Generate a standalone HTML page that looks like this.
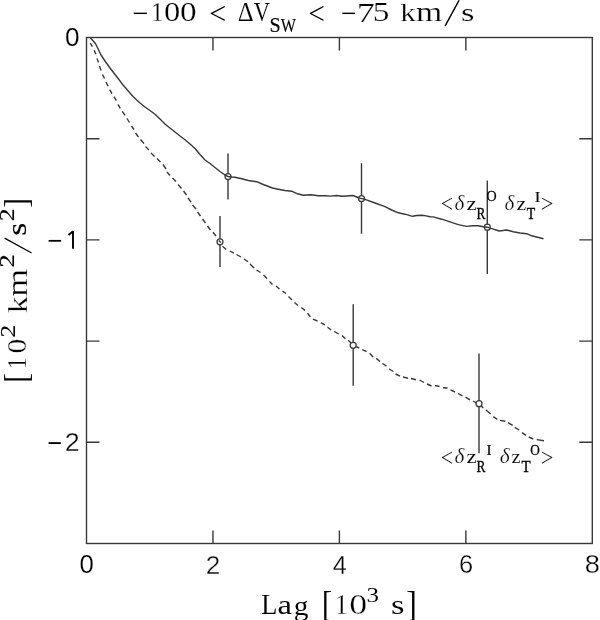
<!DOCTYPE html>
<html><head><meta charset="utf-8"><title>plot</title>
<style>html,body{margin:0;padding:0;background:#fff;}svg{display:block;}</style></head>
<body><svg width="600" height="620" viewBox="0 0 600 620">
<rect width="600" height="620" fill="#fff"/>
<g style="will-change:transform">
<rect x="86.5" y="37.5" width="505.79999999999995" height="506.0" fill="none" stroke="#383838" stroke-width="1.4"/>
<path d="M212.95 543.5V530.5M212.95 37.5V50.5M339.40 543.5V530.5M339.40 37.5V50.5M465.85 543.5V530.5M465.85 37.5V50.5M86.5 138.70H99.5M592.3 138.70H579.3M86.5 239.90H99.5M592.3 239.90H579.3M86.5 341.10H99.5M592.3 341.10H579.3M86.5 442.30H99.5M592.3 442.30H579.3" fill="none" stroke="#383838" stroke-width="1.4"/>
<path d="M90.3 37.7 L92.3 40 L94.3 42.3 L95.7 44 L97.3 47.3 L99 50.7 L101 55 L105 61 L110 68 L115 74.5 L119.3 80 L123.3 85.3 L128 90.7 L133.3 96.7 L136.7 100 L140 103 L145 107 L150 110.5 L155 114.2 L160 119 L165 124 L168 126.5 L175 132 L180 136 L185 139.7 L190 144 L195 148.5 L200 154.5 L205 160 L210 163.5 L215 167.5 L220 171.5 L225 175 L228 176.5 L232 177 L235 177.3 L241.7 178.7 L248.3 180.5 L256.7 181.7 L263.3 184.5 L272.5 188 L278.3 189.2 L285 190.5 L291.7 191.2 L297.5 193.8 L303.3 195.3 L310.8 194.7 L318.3 195.8 L325.8 195.7 L330 196.1 L336.7 195.5 L341.7 196.3 L346.7 196 L353 195.5 L358 197.5 L361.5 198.6 L365 199.3 L375 203 L385 206.7 L391.7 210 L398.3 212.8 L405 214.2 L412.5 216.3 L416.7 215.5 L421.7 215.3 L425 215.6 L430 216.7 L433.3 216.9 L441.7 219.2 L450 221.9 L458.3 224.6 L466.7 226.4 L472.5 225.8 L478.3 225.7 L483.3 226.8 L487.2 227.2 L492.5 228.8 L499.2 231 L506.7 230 L513.3 231.7 L520 233 L526.7 233.7 L531.7 235.8 L543.5 238.8" fill="none" stroke="#383838" stroke-width="1.4" stroke-linejoin="round"/>
<path d="M90.3 43.2L92.5 46.7M94.2 50.3L95.8 54.2M97 58.5L98.5 62.5M99.5 66L101 70.5M102.5 74.5L104.5 78.5M106 82L108 86.3M109.7 89.7L112 93.7M114 96.7L116.3 100.7M118 104.3L120.3 108.3M122.3 111.3L125 115.3M127 118.5L129.5 122.5M131.5 126L134 129.5M135.5 133L138.5 137M140.5 139.5L144 143.5M145.5 146.5L149 150M151 153L154.5 156.5M157 158.5L160.5 162M163 164.5L166 169M167 172L170 175.5M172.5 178L176 181.5M178 184.5L181.5 188.5M183.5 191L186.5 195M188 198L191 202M192.5 205L196 209M197.5 212L200.5 216M202.5 219L205.5 223M207.5 226L210.5 230M213 232.3L216 236M218.75 240.5L221 242.5M222.5 246.25L226.25 249.5M229.75 251L233.75 253.2M236.5 254.5L241 257M244 259L248 261.8M250 264L254 268M256.5 270L260.5 272.5M263.5 275L267 278.5M269.5 281.5L272.5 284.5M276 286L279.5 289M282.5 291.2L286 293.5M288.5 296.5L292 300M294.5 302.5L298 305.5M301.3 307.5L305 310.4M307.5 313.3L310.4 316.7M312.9 319.2L317.5 321M320.8 322.7L325 324.8M327.5 327.3L331.25 330M334.2 331.5L338.75 334M342 335.5L345.5 338.8M348.3 340.3L351 343M356 346.7L359.3 348M362.3 349.7L366.7 351.7M369.7 353.3L373 357M376.3 358.4L380 361.5M382.5 363.5L386.5 366.2M389 369L393.5 371.5M395.5 374L400 376.2M403 377L408 378.2M411 378.5L416 379.7M419.5 380L424 382.5M427 384L431.5 386M435 385.5L439.5 386.5M443 387.8L447.5 388M450.5 389.8L455 392M458 393.5L462.5 395.8M465.5 397.2L470 399.8M473 401L476.5 403M481.3 406L483.3 408M486 410L490.7 414M493.3 416.7L497.3 419.3M500 420.4L505.3 421.3M508 422.7L512.7 425.3M514.7 427.3L519.3 430M522 432.7L526 435.3M528.7 437L533.3 439M536.7 439.6L544 440.7" fill="none" stroke="#383838" stroke-width="1.4"/>
<path d="M228 153.4V173.5M228 179.5V199.5M361.5 163.3V195.6M361.5 201.6V233.8M487.3 180.5V224.2M487.3 230.2V274M220 216V238.8M220 244.8V267M353.2 304.2V342.3M353.2 348.3V385.8M479 353.6V400.7M479 406.7V453.3" fill="none" stroke="#383838" stroke-width="1.4"/>
<circle cx="228" cy="176.5" r="3.0" fill="none" stroke="#383838" stroke-width="1.25"/>
<circle cx="361.5" cy="198.6" r="3.0" fill="none" stroke="#383838" stroke-width="1.25"/>
<circle cx="487.3" cy="227.2" r="3.0" fill="none" stroke="#383838" stroke-width="1.25"/>
<circle cx="220" cy="241.8" r="3.0" fill="none" stroke="#383838" stroke-width="1.25"/>
<circle cx="353.2" cy="345.3" r="3.0" fill="none" stroke="#383838" stroke-width="1.25"/>
<circle cx="479" cy="403.7" r="3.0" fill="none" stroke="#383838" stroke-width="1.25"/>
<text transform="matrix(0.26149 0 0 0.25282 64.879 45.953)" font-family='"Liberation Sans", sans-serif' font-style="normal" font-size="100" fill="#000" stroke="#fff" stroke-width="0.15" vector-effect="non-scaling-stroke">0</text>
<text transform="matrix(0.25729 0 0 0.25249 47.531 249.096)" font-family='"Liberation Sans", sans-serif' font-style="normal" font-size="100" fill="#000">−</text>
<path d="M73 231V248.7M73 231.3L68.5 235" fill="none" stroke="#000" stroke-width="1.9"/>
<text transform="matrix(0.25111 0 0 0.26652 47.562 451.812)" font-family='"Liberation Sans", sans-serif' font-style="normal" font-size="100" fill="#000">−</text>
<text transform="matrix(0.26890 0 0 0.25493 64.648 451.000)" font-family='"Liberation Sans", sans-serif' font-style="normal" font-size="100" fill="#000" stroke="#fff" stroke-width="0.3" vector-effect="non-scaling-stroke">2</text>
<text transform="matrix(0.25731 0 0 0.25141 79.495 573.154)" font-family='"Liberation Sans", sans-serif' font-style="normal" font-size="100" fill="#000" stroke="#fff" stroke-width="0.15" vector-effect="non-scaling-stroke">0</text>
<text transform="matrix(0.26121 0 0 0.25636 205.686 573.500)" font-family='"Liberation Sans", sans-serif' font-style="normal" font-size="100" fill="#000" stroke="#fff" stroke-width="0.3" vector-effect="non-scaling-stroke">2</text>
<text transform="matrix(0.25302 0 0 0.25800 332.669 573.500)" font-family='"Liberation Sans", sans-serif' font-style="normal" font-size="100" fill="#000" stroke="#fff" stroke-width="0.3" vector-effect="non-scaling-stroke">4</text>
<text transform="matrix(0.25465 0 0 0.25423 458.957 573.252)" font-family='"Liberation Sans", sans-serif' font-style="normal" font-size="100" fill="#000" stroke="#fff" stroke-width="0.3" vector-effect="non-scaling-stroke">6</text>
<text transform="matrix(0.27278 0 0 0.25706 584.715 573.249)" font-family='"Liberation Sans", sans-serif' font-style="normal" font-size="100" fill="#000" stroke="#fff" stroke-width="0.3" vector-effect="non-scaling-stroke">8</text>
<text transform="matrix(0.28797 0 0 0.32125 132.066 23.767)" font-family='"Liberation Serif", serif' font-style="normal" font-size="100" fill="#000" stroke="#fff" stroke-width="0.25" vector-effect="non-scaling-stroke">−</text>
<text transform="matrix(0.24996 0 0 0.27872 151.103 21.300)" font-family='"Liberation Serif", serif' font-style="normal" font-size="100" fill="#000" stroke="#fff" stroke-width="0.25" vector-effect="non-scaling-stroke">1</text>
<text transform="matrix(0.32560 0 0 0.27712 163.960 21.329)" font-family='"Liberation Serif", serif' font-style="normal" font-size="100" fill="#000" stroke="#fff" stroke-width="0.25" vector-effect="non-scaling-stroke">0</text>
<text transform="matrix(0.33268 0 0 0.27712 179.933 21.329)" font-family='"Liberation Serif", serif' font-style="normal" font-size="100" fill="#000" stroke="#fff" stroke-width="0.25" vector-effect="non-scaling-stroke">0</text>
<text transform="matrix(0.30086 0 0 0.32544 209.302 24.156)" font-family='"Liberation Serif", serif' font-style="normal" font-size="100" fill="#000">&lt;</text>
<text transform="matrix(0.24675 0 0 0.27115 237.860 21.200)" font-family='"Liberation Serif", serif' font-style="normal" font-size="100" fill="#000" stroke="#fff" stroke-width="0.1" vector-effect="non-scaling-stroke">Δ</text>
<text transform="matrix(0.22509 0 0 0.27018 253.747 20.991)" font-family='"Liberation Serif", serif' font-style="normal" font-size="100" fill="#000" stroke="#fff" stroke-width="0.1" vector-effect="non-scaling-stroke">V</text>
<text transform="matrix(0.20129 0 0 0.20093 269.453 32.304)" font-family='"Liberation Serif", serif' font-style="normal" font-size="100" fill="#000" stroke="#000" stroke-width="0.15" vector-effect="non-scaling-stroke">S</text>
<text transform="matrix(0.16154 0 0 0.19853 280.784 32.199)" font-family='"Liberation Serif", serif' font-style="normal" font-size="100" fill="#000" stroke="#000" stroke-width="0.15" vector-effect="non-scaling-stroke">W</text>
<text transform="matrix(0.29441 0 0 0.32337 308.134 24.137)" font-family='"Liberation Serif", serif' font-style="normal" font-size="100" fill="#000">&lt;</text>
<text transform="matrix(0.27937 0 0 0.32125 340.409 23.867)" font-family='"Liberation Serif", serif' font-style="normal" font-size="100" fill="#000" stroke="#fff" stroke-width="0.25" vector-effect="non-scaling-stroke">−</text>
<text transform="matrix(0.36025 0 0 0.27643 356.725 21.600)" font-family='"Liberation Serif", serif' font-style="normal" font-size="100" fill="#000" stroke="#fff" stroke-width="0.25" vector-effect="non-scaling-stroke">7</text>
<text transform="matrix(0.33389 0 0 0.27236 372.860 21.334)" font-family='"Liberation Serif", serif' font-style="normal" font-size="100" fill="#000" stroke="#fff" stroke-width="0.25" vector-effect="non-scaling-stroke">5</text>
<text transform="matrix(0.31188 0 0 0.25942 400.206 20.900)" font-family='"Liberation Serif", serif' font-style="normal" font-size="100" fill="#000" stroke="#fff" stroke-width="0.25" vector-effect="non-scaling-stroke">k</text>
<text transform="matrix(0.33729 0 0 0.27590 415.992 20.900)" font-family='"Liberation Serif", serif' font-style="normal" font-size="100" fill="#000" stroke="#fff" stroke-width="0.25" vector-effect="non-scaling-stroke">m</text>
<path d="M445.3 25.6L458.9 0.7" stroke="#000" stroke-width="1.4" stroke-linecap="round"/>
<text transform="matrix(0.34614 0 0 0.26198 461.080 20.644)" font-family='"Liberation Serif", serif' font-style="normal" font-size="100" fill="#000" stroke="#fff" stroke-width="0.25" vector-effect="non-scaling-stroke">s</text>
<text transform="matrix(0.26438 0 0 0.28712 261.338 613.700)" font-family='"Liberation Serif", serif' font-style="normal" font-size="100" fill="#000" stroke="#fff" stroke-width="0.05" vector-effect="non-scaling-stroke">L</text>
<text transform="matrix(0.32657 0 0 0.28183 277.452 613.625)" font-family='"Liberation Serif", serif' font-style="normal" font-size="100" fill="#000" stroke="#fff" stroke-width="0.05" vector-effect="non-scaling-stroke">a</text>
<text transform="matrix(0.29453 0 0 0.27572 293.834 614.549)" font-family='"Liberation Serif", serif' font-style="normal" font-size="100" fill="#000" stroke="#fff" stroke-width="0.05" vector-effect="non-scaling-stroke">g</text>
<text transform="matrix(0.31439 0 0 0.35644 321.667 616.231)" font-family='"Liberation Serif", serif' font-style="normal" font-size="100" fill="#000" stroke="#fff" stroke-width="0.05" vector-effect="non-scaling-stroke">[</text>
<text transform="matrix(0.27553 0 0 0.28630 334.578 614.200)" font-family='"Liberation Serif", serif' font-style="normal" font-size="100" fill="#000" stroke="#fff" stroke-width="0.3" vector-effect="non-scaling-stroke">1</text>
<text transform="matrix(0.35864 0 0 0.28601 349.134 614.021)" font-family='"Liberation Serif", serif' font-style="normal" font-size="100" fill="#000" stroke="#fff" stroke-width="0.3" vector-effect="non-scaling-stroke">0</text>
<text transform="matrix(0.24934 0 0 0.20912 366.607 602.096)" font-family='"Liberation Serif", serif' font-style="normal" font-size="100" fill="#000" stroke="#fff" stroke-width="0.05" vector-effect="non-scaling-stroke">3</text>
<text transform="matrix(0.34774 0 0 0.27341 390.974 613.633)" font-family='"Liberation Serif", serif' font-style="normal" font-size="100" fill="#000" stroke="#fff" stroke-width="0.05" vector-effect="non-scaling-stroke">s</text>
<text transform="matrix(0.31888 0 0 0.35342 406.248 616.272)" font-family='"Liberation Serif", serif' font-style="normal" font-size="100" fill="#000" stroke="#fff" stroke-width="0.05" vector-effect="non-scaling-stroke">]</text>
<text transform="matrix(0 -0.29642 0.33831 0 27.474 382.800)" font-family='"Liberation Serif", serif' font-style="normal" font-size="100" fill="#000" stroke="#fff" stroke-width="0.1" vector-effect="non-scaling-stroke">[</text>
<text transform="matrix(0 -0.24712 0.27872 0 26.100 369.572)" font-family='"Liberation Serif", serif' font-style="normal" font-size="100" fill="#000" stroke="#fff" stroke-width="0.3" vector-effect="non-scaling-stroke">1</text>
<text transform="matrix(0 -0.29729 0.28156 0 26.025 353.532)" font-family='"Liberation Serif", serif' font-style="normal" font-size="100" fill="#000" stroke="#fff" stroke-width="0.3" vector-effect="non-scaling-stroke">0</text>
<text transform="matrix(0 -0.25444 0.21145 0 14.500 337.618)" font-family='"Liberation Serif", serif' font-style="normal" font-size="100" fill="#000" stroke="#000" stroke-width="0.1" vector-effect="non-scaling-stroke">2</text>
<text transform="matrix(0 -0.34099 0.27672 0 26.500 313.149)" font-family='"Liberation Serif", serif' font-style="normal" font-size="100" fill="#000" stroke="#fff" stroke-width="0.3" vector-effect="non-scaling-stroke">k</text>
<text transform="matrix(0 -0.36022 0.28651 0 26.500 296.856)" font-family='"Liberation Serif", serif' font-style="normal" font-size="100" fill="#000" stroke="#fff" stroke-width="0.3" vector-effect="non-scaling-stroke">m</text>
<text transform="matrix(0 -0.27440 0.21145 0 14.200 267.806)" font-family='"Liberation Serif", serif' font-style="normal" font-size="100" fill="#000" stroke="#000" stroke-width="0.1" vector-effect="non-scaling-stroke">2</text>
<path d="M31.2 252.8L5 238.4" stroke="#000" stroke-width="1.3" stroke-linecap="round"/>
<text transform="matrix(0 -0.33332 0.27029 0 26.236 235.767)" font-family='"Liberation Serif", serif' font-style="normal" font-size="100" fill="#000" stroke="#000" stroke-width="0.2" vector-effect="non-scaling-stroke">s</text>
<text transform="matrix(0 -0.25943 0.21145 0 14.200 221.340)" font-family='"Liberation Serif", serif' font-style="normal" font-size="100" fill="#000" stroke="#000" stroke-width="0.1" vector-effect="non-scaling-stroke">2</text>
<text transform="matrix(0 -0.28744 0.33469 0 27.122 207.639)" font-family='"Liberation Serif", serif' font-style="normal" font-size="100" fill="#000" stroke="#fff" stroke-width="0.1" vector-effect="non-scaling-stroke">]</text>
<text transform="matrix(0.21920 0 0 0.24874 440.708 212.259)" font-family='"Liberation Serif", serif' font-style="normal" font-size="100" fill="#000" stroke="#fff" stroke-width="0.1" vector-effect="non-scaling-stroke">&lt;</text>
<text transform="matrix(0.21171 0 0 0.20466 454.380 209.800)" font-family='"Liberation Serif", serif' font-style="italic" font-size="100" fill="#000" stroke="#fff" stroke-width="0.25" vector-effect="non-scaling-stroke">δ</text>
<text transform="matrix(0.23127 0 0 0.18737 466.379 209.600)" font-family='"Liberation Serif", serif' font-style="normal" font-size="100" fill="#000" stroke="#fff" stroke-width="0.1" vector-effect="non-scaling-stroke">z</text>
<text transform="matrix(0.13350 0 0 0.16799 476.615 218.500)" font-family='"Liberation Serif", serif' font-style="normal" font-size="100" fill="#000" stroke="#000" stroke-width="0.3" vector-effect="non-scaling-stroke">R</text>
<text transform="matrix(0.14059 0 0 0.14140 486.423 201.362)" font-family='"Liberation Serif", serif' font-style="normal" font-size="100" fill="#000" stroke="#000" stroke-width="0.25" vector-effect="non-scaling-stroke">O</text>
<text transform="matrix(0.21171 0 0 0.20466 504.380 209.800)" font-family='"Liberation Serif", serif' font-style="italic" font-size="100" fill="#000" stroke="#fff" stroke-width="0.25" vector-effect="non-scaling-stroke">δ</text>
<text transform="matrix(0.21842 0 0 0.18737 516.413 209.600)" font-family='"Liberation Serif", serif' font-style="normal" font-size="100" fill="#000" stroke="#fff" stroke-width="0.1" vector-effect="non-scaling-stroke">z</text>
<text transform="matrix(0.13885 0 0 0.16799 526.749 218.500)" font-family='"Liberation Serif", serif' font-style="normal" font-size="100" fill="#000" stroke="#000" stroke-width="0.3" vector-effect="non-scaling-stroke">T</text>
<text transform="matrix(0.15284 0 0 0.14509 534.948 201.500)" font-family='"Liberation Serif", serif' font-style="normal" font-size="100" fill="#000" stroke="#000" stroke-width="0.25" vector-effect="non-scaling-stroke">I</text>
<text transform="matrix(0.22565 0 0 0.24874 540.854 212.259)" font-family='"Liberation Serif", serif' font-style="normal" font-size="100" fill="#000" stroke="#fff" stroke-width="0.1" vector-effect="non-scaling-stroke">&gt;</text>
<text transform="matrix(0.21920 0 0 0.24874 440.708 465.559)" font-family='"Liberation Serif", serif' font-style="normal" font-size="100" fill="#000" stroke="#fff" stroke-width="0.1" vector-effect="non-scaling-stroke">&lt;</text>
<text transform="matrix(0.21171 0 0 0.20466 454.380 463.100)" font-family='"Liberation Serif", serif' font-style="italic" font-size="100" fill="#000" stroke="#fff" stroke-width="0.25" vector-effect="non-scaling-stroke">δ</text>
<text transform="matrix(0.23127 0 0 0.18737 466.379 462.900)" font-family='"Liberation Serif", serif' font-style="normal" font-size="100" fill="#000" stroke="#fff" stroke-width="0.1" vector-effect="non-scaling-stroke">z</text>
<text transform="matrix(0.13350 0 0 0.16799 476.615 471.800)" font-family='"Liberation Serif", serif' font-style="normal" font-size="100" fill="#000" stroke="#000" stroke-width="0.3" vector-effect="non-scaling-stroke">R</text>
<text transform="matrix(0.15284 0 0 0.14509 486.448 454.800)" font-family='"Liberation Serif", serif' font-style="normal" font-size="100" fill="#000" stroke="#000" stroke-width="0.25" vector-effect="non-scaling-stroke">I</text>
<text transform="matrix(0.21394 0 0 0.20466 499.773 463.100)" font-family='"Liberation Serif", serif' font-style="italic" font-size="100" fill="#000" stroke="#fff" stroke-width="0.25" vector-effect="non-scaling-stroke">δ</text>
<text transform="matrix(0.20557 0 0 0.18737 511.548 462.900)" font-family='"Liberation Serif", serif' font-style="normal" font-size="100" fill="#000" stroke="#fff" stroke-width="0.1" vector-effect="non-scaling-stroke">z</text>
<text transform="matrix(0.14926 0 0 0.16799 521.430 471.800)" font-family='"Liberation Serif", serif' font-style="normal" font-size="100" fill="#000" stroke="#000" stroke-width="0.3" vector-effect="non-scaling-stroke">T</text>
<text transform="matrix(0.13278 0 0 0.14140 530.255 454.662)" font-family='"Liberation Serif", serif' font-style="normal" font-size="100" fill="#000" stroke="#000" stroke-width="0.25" vector-effect="non-scaling-stroke">O</text>
<text transform="matrix(0.22565 0 0 0.24874 540.854 465.559)" font-family='"Liberation Serif", serif' font-style="normal" font-size="100" fill="#000" stroke="#fff" stroke-width="0.1" vector-effect="non-scaling-stroke">&gt;</text>
</g>
</svg></body></html>
